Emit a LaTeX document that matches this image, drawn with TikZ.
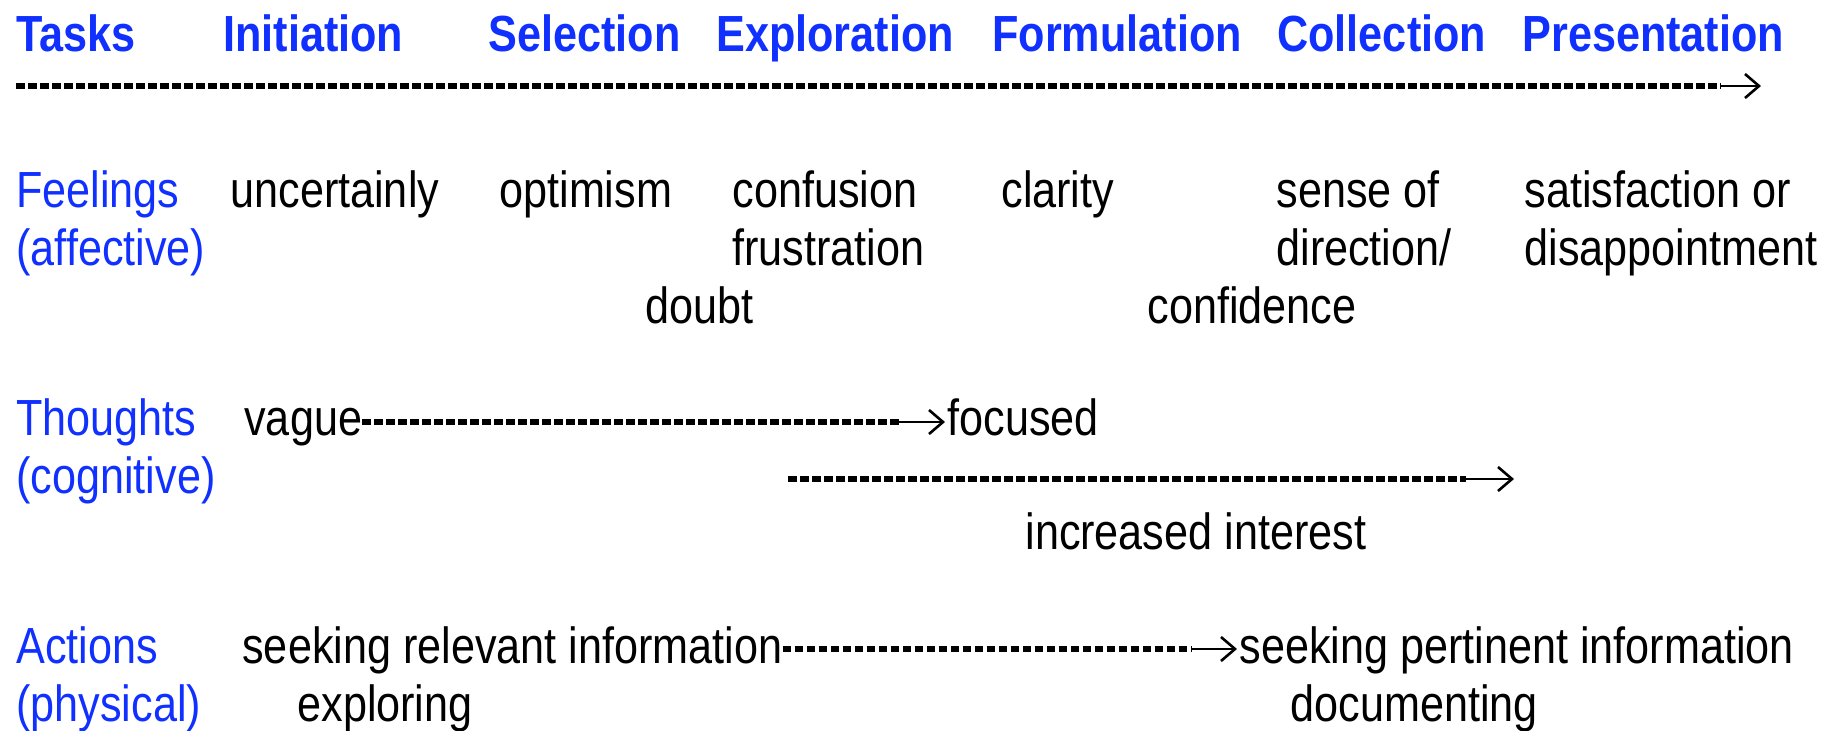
\documentclass[tikz,border=0pt]{standalone}
\usepackage{fontspec}
\usepackage{tikz}
\usepackage{xcolor}
\usetikzlibrary{arrows.meta}
\setmainfont{Liberation Sans}[FakeStretch=0.85]
\definecolor{taskblue}{RGB}{16,48,255}
\tikzset{
    task-label/.style = {text=taskblue, font=\bfseries, anchor=base west, inner sep=0pt},
    row-label/.style = {text=taskblue, anchor=base west, inner sep=0pt, align=left},
    entry/.style = {anchor=base west, inner sep=0pt, align=left},
    dash-rule/.style = {line width=3pt, dash pattern=on 4.3pt off 1.7pt},
    tip-arrow/.style = {line width=1.3pt, -{Straight Barb[length=7pt, width=12pt, line width=1.3pt]}},
}

\begin{document}
\begin{tikzpicture}[x=0.5pt, y=-0.5pt]
\fontsize{25.4pt}{29pt}\selectfont
\useasboundingbox (0,0) rectangle (1841,731);
% tasks
\node[task-label] (tasks) at (16,52) {Tasks};
\node[task-label] (initiation) at (223,52) {Initiation};
\node[task-label] (selection) at (488,52) {Selection};
\node[task-label] (exploration) at (716,52) {Exploration};
\node[task-label] (formulation) at (992,52) {Formulation};
\node[task-label] (collection) at (1277,52) {Collection};
\node[task-label] (presentation) at (1522,52) {Presentation};
\coordinate (task-start) at (16,86);
\coordinate (task-end) at (1761,86);
\draw[dash-rule] (task-start) -- ([xshift=-20pt]task-end);
\draw[tip-arrow] ([xshift=-20pt]task-end) -- (task-end);
% feelings (multi-line nodes sit on their last line)
\node[row-label] (feelings) at (16,266) {Feelings\\(affective)};
\node[entry] (uncertainly) at (230,208) {uncertainly};
\node[entry] (optimism) at (499,208) {optimism};
\node[entry] (confusion) at (732,266) {confusion\\frustration};
\node[entry] (doubt) at (645,324) {doubt};
\node[entry] (clarity) at (1001,208) {clarity};
\node[entry] (sense) at (1276,266) {sense of\\direction/};
\node[entry] (confidence) at (1147,324) {confidence};
\node[entry] (satisfaction) at (1524,266) {satisfaction or\\disappointment};
% thoughts
\node[row-label] (thoughts) at (16,494) {Thoughts\\(cognitive)};
\node[entry] (vague) at (244,436) {vague};
\node[entry] (focused) at (947,436) {focused};
\draw[dash-rule] ([yshift=7pt]vague.base east) -- ([xshift=-24pt,yshift=7pt]focused.base west);
\draw[tip-arrow] ([xshift=-24pt,yshift=7pt]focused.base west) -- ([xshift=-1pt,yshift=7pt]focused.base west);
\coordinate (interest-start) at (788,479);
\coordinate (interest-end) at (1514,479);
\draw[dash-rule] (interest-start) -- ([xshift=-24pt]interest-end);
\draw[tip-arrow] ([xshift=-24pt]interest-end) -- (interest-end);
\node[entry] (interest) at (1025,550) {increased interest};
% actions
\node[row-label] (actions) at (16,721) {Actions\\(physical)};
\node[entry] (relevant) at (242,663) {seeking relevant information};
\node[entry] (exploring) at (297,721) {exploring};
\node[entry] (pertinent) at (1239,663) {seeking pertinent information};
\node[entry] (documenting) at (1290,721) {documenting};
\draw[dash-rule] ([yshift=7pt]relevant.base east) -- ([xshift=-24pt,yshift=7pt]pertinent.base west);
\draw[tip-arrow] ([xshift=-24pt,yshift=7pt]pertinent.base west) -- ([xshift=-1pt,yshift=7pt]pertinent.base west);
\end{tikzpicture}
\end{document}
